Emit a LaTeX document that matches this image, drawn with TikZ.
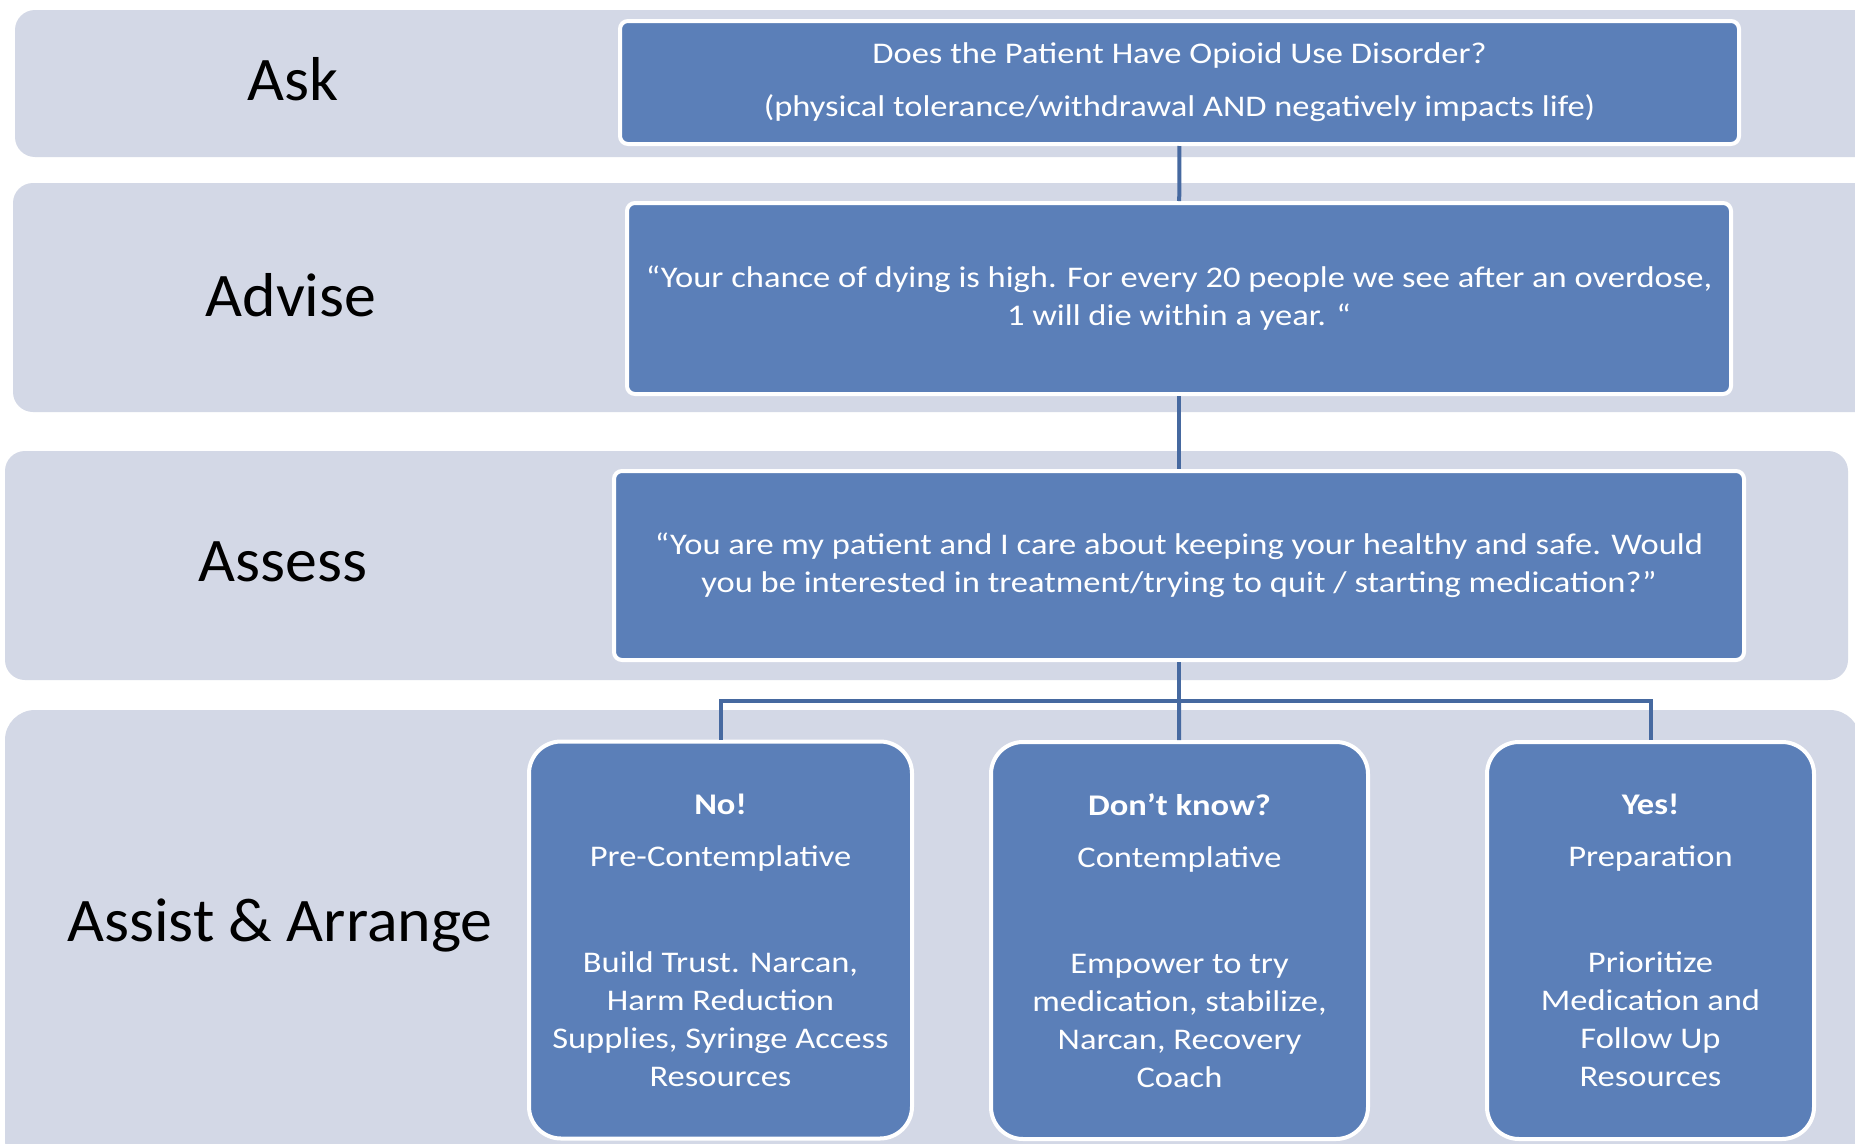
\documentclass[tikz,border=0pt]{standalone}
\usepackage{fontspec}
\setmainfont{Carlito}
\newfontfamily\boxfont[FakeStretch=1.15]{Carlito}
\newfontfamily\labelfont[FakeStretch=1.03]{Carlito}
\definecolor{bandfill}{RGB}{211,216,230}
\definecolor{boxfill}{RGB}{91,127,184}
\definecolor{linkcol}{RGB}{70,105,160}
\tikzset{
  band/.style={fill=bandfill,rounded corners=20pt},
  stagelabel/.style={font=\labelfont\fontsize{62}{72}\selectfont,text=black},
  qbox/.style={rectangle,fill=boxfill,draw=white,line width=4pt,rounded corners=8pt,
    text=white,align=center,font=\boxfont\fontsize{30}{38}\selectfont},
  stagebox/.style={qbox,rounded corners=32pt,minimum height=397pt},
  link/.style={draw=linkcol,line width=4pt}
}
\begin{document}
\begin{tikzpicture}[x=1pt,y=-1pt]
  \useasboundingbox[fill=white] (0,0) rectangle (1855,1143);
  % bands
  \fill[band] (15,10) rectangle (1880,157);
  \fill[band] (13,183) rectangle (1880,412);
  \fill[band] (5,451) rectangle (1848,680);
  \fill[band,rounded corners=30pt] (5,710) rectangle (1860,1170);
  % stage names
  \node[stagelabel] (lask) at (293,79) {Ask};
  \node[stagelabel] (ladvise) at (291,295) {Advise};
  \node[stagelabel] (lassess) at (283,562) {Assess};
  \node[stagelabel] (larrange) at (280,925) {Assist \& Arrange};
  % questions
  \node[qbox,minimum width=1119pt,minimum height=123pt] (ask) at (1179.5,82.5)
    {Does the Patient Have Opioid Use Disorder?\\[15pt]
     (physical tolerance/withdrawal AND negatively impacts life)};
  \node[qbox,minimum width=1104pt,minimum height=191pt] (advise) at (1179,298.5)
    {“Your chance of dying is high. For every 20 people we see after an overdose,\\
     1 will die within a year. “};
  \node[qbox,minimum width=1130pt,minimum height=189pt] (assess) at (1179,565.5)
    {“You are my patient and I care about keeping your healthy and safe. Would\\
     you be interested in treatment/trying to quit / starting medication?”};
  % answers
  \node[stagebox,minimum width=383pt] (no) at (720.5,940)
    {\textbf{No!}\\[14pt] Pre-Contemplative\\[68pt]
     Build Trust. Narcan,\\ Harm Reduction\\ Supplies, Syringe Access\\ Resources};
  \node[stagebox,minimum width=377pt] (unsure) at (1179.5,940.5)
    {\textbf{Don’t know?}\\[14pt] Contemplative\\[68pt]
     Empower to try\\ medication, stabilize,\\ Narcan, Recovery\\ Coach};
  \node[stagebox,minimum width=327pt] (yes) at (1650.5,940.5)
    {\textbf{Yes!}\\[14pt] Preparation\\[68pt]
     Prioritize\\ Medication and\\ Follow Up\\ Resources};
  % connectors
  \coordinate (split) at (1179,701);
  \draw[link] (ask) -- (advise);
  \draw[link] (advise) -- (assess);
  \draw[link] (assess) -- (split);
  \draw[link] (split) -- (unsure);
  \draw[link] (no.north) |- (split) -| (yes.north);
\end{tikzpicture}
\end{document}
